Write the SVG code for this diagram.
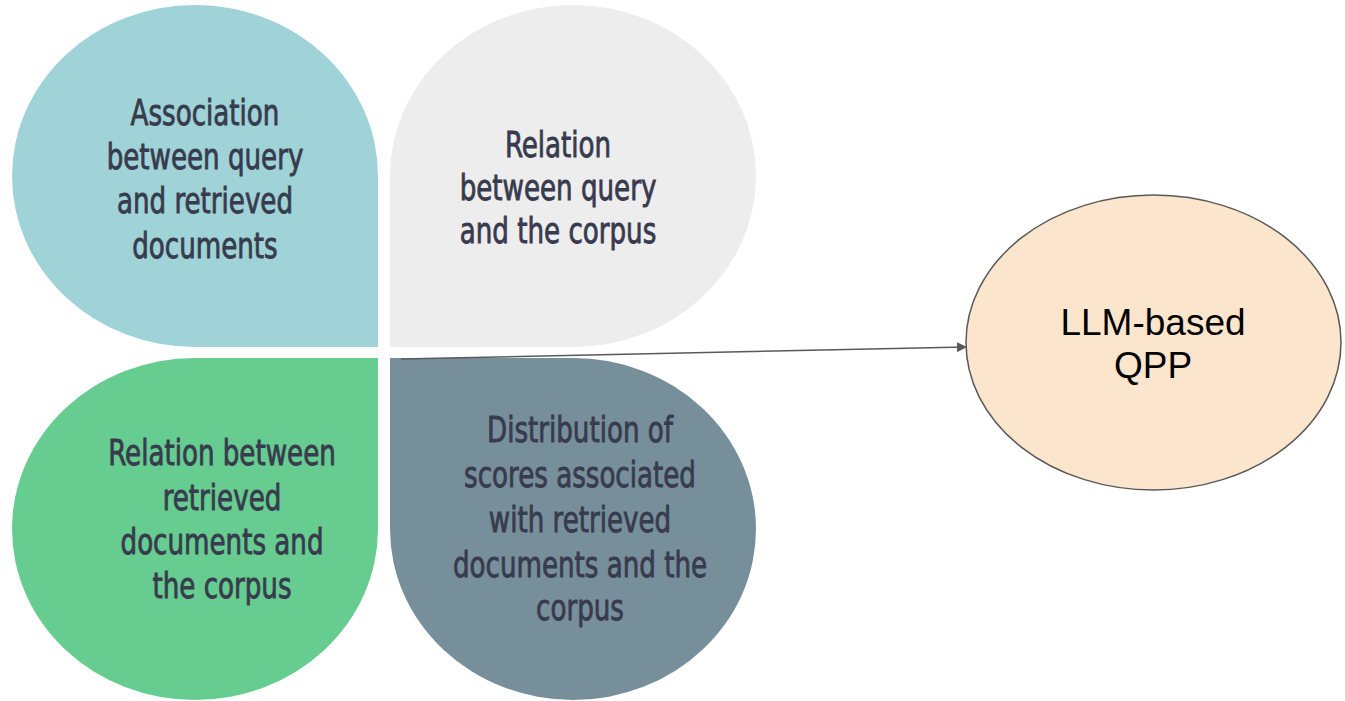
<svg xmlns="http://www.w3.org/2000/svg" width="1345" height="701" viewBox="0 0 1345 701">
<style>
.lbl{font-family:"DejaVu Sans Condensed","DejaVu Sans",sans-serif;font-size:35px;fill:#383b4e;stroke:#383b4e;stroke-width:0.8;text-anchor:middle}
.out{font-family:"Liberation Sans",Arial,sans-serif;font-size:37px;fill:#000;text-anchor:middle}
</style>
<defs>
<marker id="ah" markerWidth="10" markerHeight="10" refX="9" refY="5" orient="auto" markerUnits="userSpaceOnUse">
<path d="M0,0 L10,5 L0,10 Z" fill="#595959"/>
</marker>
</defs>
<rect width="1345" height="701" fill="#fff"/>
<g id="petal-association">
<path d="M378,176 A183,171 0 1 0 195,347 L378,347 Z" fill="#9fd3d7"/>
<text class="lbl" transform="translate(205,0) scale(0.83,1)"><tspan x="0" y="125">Association</tspan><tspan x="0" y="169">between query</tspan><tspan x="0" y="213">and retrieved</tspan><tspan x="0" y="258">documents</tspan></text>
</g>
<g id="petal-query-corpus">
<path d="M390,176 A183,171 0 1 1 572,347 L390,347 Z" fill="#ededed"/>
<text class="lbl" transform="translate(558,0) scale(0.83,1)"><tspan x="0" y="157">Relation</tspan><tspan x="0" y="200">between query</tspan><tspan x="0" y="243">and the corpus</tspan></text>
</g>
<g id="petal-docs-corpus">
<path d="M195,358 A183,171 0 1 0 378,529 L378,358 Z" fill="#66cc8f"/>
<text class="lbl" transform="translate(222,0) scale(0.83,1)"><tspan x="0" y="465">Relation between</tspan><tspan x="0" y="510">retrieved</tspan><tspan x="0" y="554">documents and</tspan><tspan x="0" y="598">the corpus</tspan></text>
</g>
<g id="petal-scores">
<path d="M572,358 A183,171 0 1 1 390,529 L390,358 Z" fill="#778f9a"/>
<text class="lbl" transform="translate(580,0) scale(0.83,1)"><tspan x="0" y="442">Distribution of</tspan><tspan x="0" y="487">scores associated</tspan><tspan x="0" y="532">with retrieved</tspan><tspan x="0" y="577">documents and the</tspan><tspan x="0" y="620">corpus</tspan></text>
</g>
<g id="connectors">
<line x1="401" y1="359" x2="966" y2="347" stroke="#595959" stroke-width="1.5" marker-end="url(#ah)"/>
</g>
<g id="llm-qpp">
<ellipse cx="1153.5" cy="342.5" rx="187.5" ry="147.5" fill="#fce5cd" stroke="#595959" stroke-width="1.5"/>
<text class="out"><tspan x="1153" y="335">LLM-based</tspan><tspan x="1153" y="378">QPP</tspan></text>
</g>
</svg>
